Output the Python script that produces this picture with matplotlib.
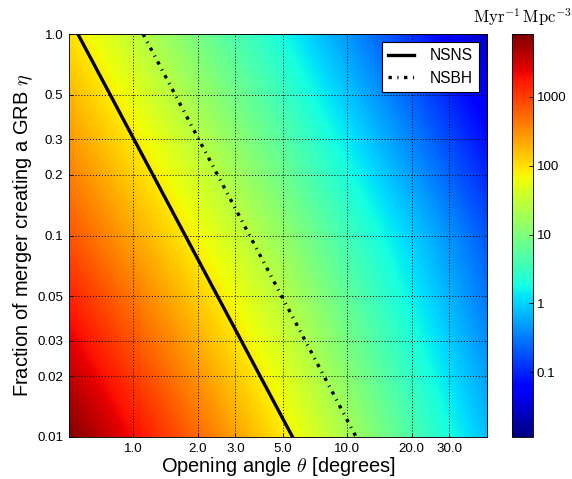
import numpy as np
import matplotlib
matplotlib.use('Agg')
import matplotlib.pyplot as plt
from matplotlib.colors import LogNorm, Normalize
from matplotlib.cm import ScalarMappable

plt.rcParams['font.family'] = ['Liberation Sans', 'DejaVu Sans']
plt.rcParams['mathtext.fontset'] = 'cm'
plt.rcParams['lines.scale_dashes'] = False

# --- DATA ---
# rate [Myr^-1 Mpc^-3] on a coarse grid; rows = eta, columns = theta
theta_grid = [0.5, 4.74, 45.0]
eta_grid = [0.01, 0.1, 1.0]
rate_grid = [[8200.0, 100.0, 0.8],
             [750.0, 16.0, 0.2],
             [100.0, 2.0, 0.025]]
rate_min, rate_max = 0.0115, 8200.0

# lines of constant observed rate
nsns_theta = [0.55, 5.55]
nsns_eta = [1.0, 0.01]
nsbh_theta = [1.11, 11.0]
nsbh_eta = [1.0, 0.01]

xticks = [1.0, 2.0, 3.0, 5.0, 10.0, 20.0, 30.0]
yticks = [0.01, 0.02, 0.03, 0.05, 0.1, 0.2, 0.3, 0.5, 1.0]
cbar_ticks = [0.1, 1, 10, 100, 1000]
cbar_labels = ['0.1', '1', '10', '100', '1000']

# --- FIGURE ---
fig = plt.figure(figsize=(7.15, 5.9875), dpi=80)
pos = [0.1206, 0.0877, 0.7308, 0.8413]

# background map on linear axes in log10 units
ax_bg = fig.add_axes(pos)
lx = np.log10(theta_grid)
ly = np.log10(eta_grid)
dx = lx[1] - lx[0]
dy = ly[1] - ly[0]
ax_bg.imshow(np.log10(rate_grid), origin='lower', cmap='jet', aspect='auto',
             norm=Normalize(np.log10(rate_min), np.log10(rate_max)),
             interpolation='bilinear', interpolation_stage='data',
             extent=[lx[0] - dx / 2, lx[-1] + dx / 2, ly[0] - dy / 2, ly[-1] + dy / 2])
ax_bg.set_xlim(lx[0], lx[-1])
ax_bg.set_ylim(ly[0], ly[-1])
ax_bg.axis('off')

# main log-log axes
ax = fig.add_axes(pos)
ax.set_facecolor('none')
ax.set_xscale('log')
ax.set_yscale('log')
ax.plot(nsns_theta, nsns_eta, color='black', lw=3, label='NSNS')
ax.plot(nsbh_theta, nsbh_eta, color='black', lw=3, linestyle=(0, (3, 5, 1, 5)),
        label='NSBH')
ax.set_xlim(theta_grid[0], theta_grid[-1])
ax.set_ylim(eta_grid[0], eta_grid[-1])
ax.set_xticks(xticks)
ax.set_xticklabels(['%.1f' % t for t in xticks])
ax.set_yticks(yticks)
ax.set_yticklabels([('%g' % t) if t < 1 else '1.0' for t in yticks])
ax.minorticks_off()
ax.tick_params(direction='in', labelsize=12, length=4, pad=5)
ax.grid(True, which='major', linestyle=':', color='black', linewidth=0.8)
ax.set_xlabel(r'Opening angle $\theta$ [degrees]', fontsize=18, labelpad=0)
ax.set_ylabel(r'Fraction of merger creating a GRB $\eta$', fontsize=18, labelpad=2)
leg = ax.legend(loc='upper right', fontsize=14, fancybox=False, handlelength=1.7,
                handletextpad=1.0, framealpha=1.0)
leg.get_frame().set_edgecolor('black')

# colorbar
cax = fig.add_axes([0.895, pos[1], 0.0367, pos[3]])
sm = ScalarMappable(norm=LogNorm(rate_min, rate_max), cmap='jet')
cb = fig.colorbar(sm, cax=cax)
cb.set_ticks(cbar_ticks)
cb.set_ticklabels(cbar_labels)
cax.minorticks_off()
cax.tick_params(labelsize=12, direction='in', length=4)
cax.set_title(r'$\mathrm{Myr^{-1}\,Mpc^{-3}}$', fontsize=15, pad=10)

fig.savefig('out.png', dpi=80)
